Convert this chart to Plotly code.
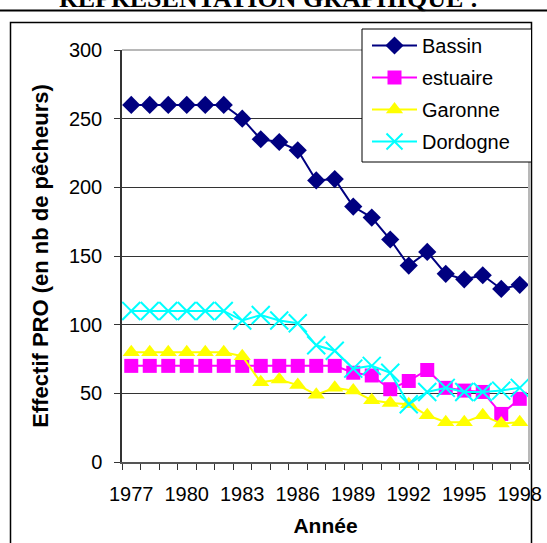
import plotly.graph_objects as go

# ---- data ----
years = list(range(1977, 1999))
bassin = [260, 260, 260, 260, 260, 260, 250, 235, 233, 227, 205, 206, 186, 178, 162, 143, 153, 137, 133, 136, 126, 129]
estuaire = [70, 70, 70, 70, 70, 70, 70, 70, 70, 70, 70, 70, 65, 63, 53, 59, 67, 54, 52, 51, 35, 46]
garonne = [80, 80, 80, 80, 80, 80, 77, 58, 60, 56, 49, 54, 52, 45, 43, 42, 34, 29, 29, 34, 28, 29]
dordogne = [110, 110, 110, 110, 110, 110, 103, 107, 103, 101, 85, 81, 68, 70, 65, 42, 51, 54, 51, 51, 52, 54]
x_ticks = [1977, 1980, 1983, 1986, 1989, 1992, 1995, 1998]
y_ticks = [0, 50, 100, 150, 200, 250, 300]

W, H = 547, 543
L, R, T, B = 122, 529, 50, 462


def px(x):
    return (x - L) / (R - L)


def py(y):
    return (B - y) / (B - T)


fig = go.Figure()

series = [
    ("Bassin", bassin, "#000080", "diamond", 14, 0),
    ("estuaire", estuaire, "#FF00FF", "square", 14, 0),
    ("Garonne", garonne, "#FFFF00", "triangle-up", 15, 0),
    ("Dordogne", dordogne, "#00FFFF", "x-thin", 18, 2),
]
for name, vals, col, sym, size, lw in series:
    fig.add_trace(go.Scatter(
        x=years, y=vals, name=name, mode="lines+markers", legendgroup=name,
        line=dict(color=col, width=2),
        marker=dict(symbol=sym, size=size, color=col, line=dict(color=col, width=lw)),
    ))

fig.update_layout(
    width=W, height=H,
    margin=dict(l=L, r=W - R, t=T, b=H - B, autoexpand=False),
    paper_bgcolor="white", plot_bgcolor="white",
    font=dict(family="Liberation Sans, Arial, sans-serif", size=20, color="black"),
    showlegend=True,
    legend=dict(
        x=px(367), y=py(26), xanchor="left", yanchor="top",
        bgcolor="rgba(0,0,0,0)", borderwidth=0,
        font=dict(size=20), tracegroupgap=3, itemwidth=45,
    ),
)

fig.update_xaxes(
    range=[1976.5, 1998.5], tickmode="array", tickvals=x_ticks,
    ticktext=[str(v) for v in x_ticks], ticks="", showgrid=False,
    showline=True, linecolor="#555555", linewidth=2, zeroline=False,
    tickfont=dict(size=20), ticklabelstandoff=13,
    minor=dict(ticks="outside", tick0=1976.5, dtick=1, ticklen=6, tickcolor="#333333", tickwidth=1, showgrid=False),
    title=dict(text="<b>Année</b>", font=dict(size=21), standoff=14),
)
fig.update_yaxes(
    range=[0, 300], tickmode="array", tickvals=y_ticks,
    ticks="outside", ticklen=6, tickcolor="#333333",
    showgrid=True, gridcolor="#333333", gridwidth=1,
    showline=True, linecolor="#333333", linewidth=1.5, zeroline=False,
    tickfont=dict(size=20), ticklabelstandoff=8,
    title=dict(text="<b>Effectif PRO (en nb de pêcheurs)</b>", font=dict(size=22), standoff=14),
)

shapes = [
    # plot area border (top and right)
    dict(type="line", xref="paper", yref="paper", x0=0, x1=1, y0=1, y1=1, line=dict(color="#b8b8b8", width=2)),
    dict(type="line", xref="paper", yref="paper", x0=1, x1=1, y0=0, y1=1, line=dict(color="#b8b8b8", width=2)),
    # outer chart frame
    dict(type="rect", xref="paper", yref="paper", x0=px(10.5), x1=px(531.5), y0=py(548), y1=py(22.5),
         line=dict(color="black", width=1.5), layer="below"),
    # legend box
    dict(type="rect", xref="paper", yref="paper", x0=px(362), x1=px(531.5), y0=py(162), y1=py(29),
         line=dict(color="black", width=1), fillcolor="white", layer="above"),
    # page rule under the heading
    dict(type="line", xref="paper", yref="paper", x0=px(-5), x1=px(560), y0=py(10.5), y1=py(10.5),
         line=dict(color="black", width=2)),
]
fig.update_layout(shapes=shapes)

fig.add_annotation(
    text="<b>REPRESENTATION GRAPHIQUE :</b>", xref="paper", yref="paper",
    x=px(268), y=py(15), xanchor="center", yanchor="bottom", showarrow=False,
    font=dict(family="Liberation Serif, Times New Roman, serif", size=26, color="black"),
)

fig.write_html("out.html", config={"displayModeBar": False},
               post_script="document.body.style.margin='0';")
